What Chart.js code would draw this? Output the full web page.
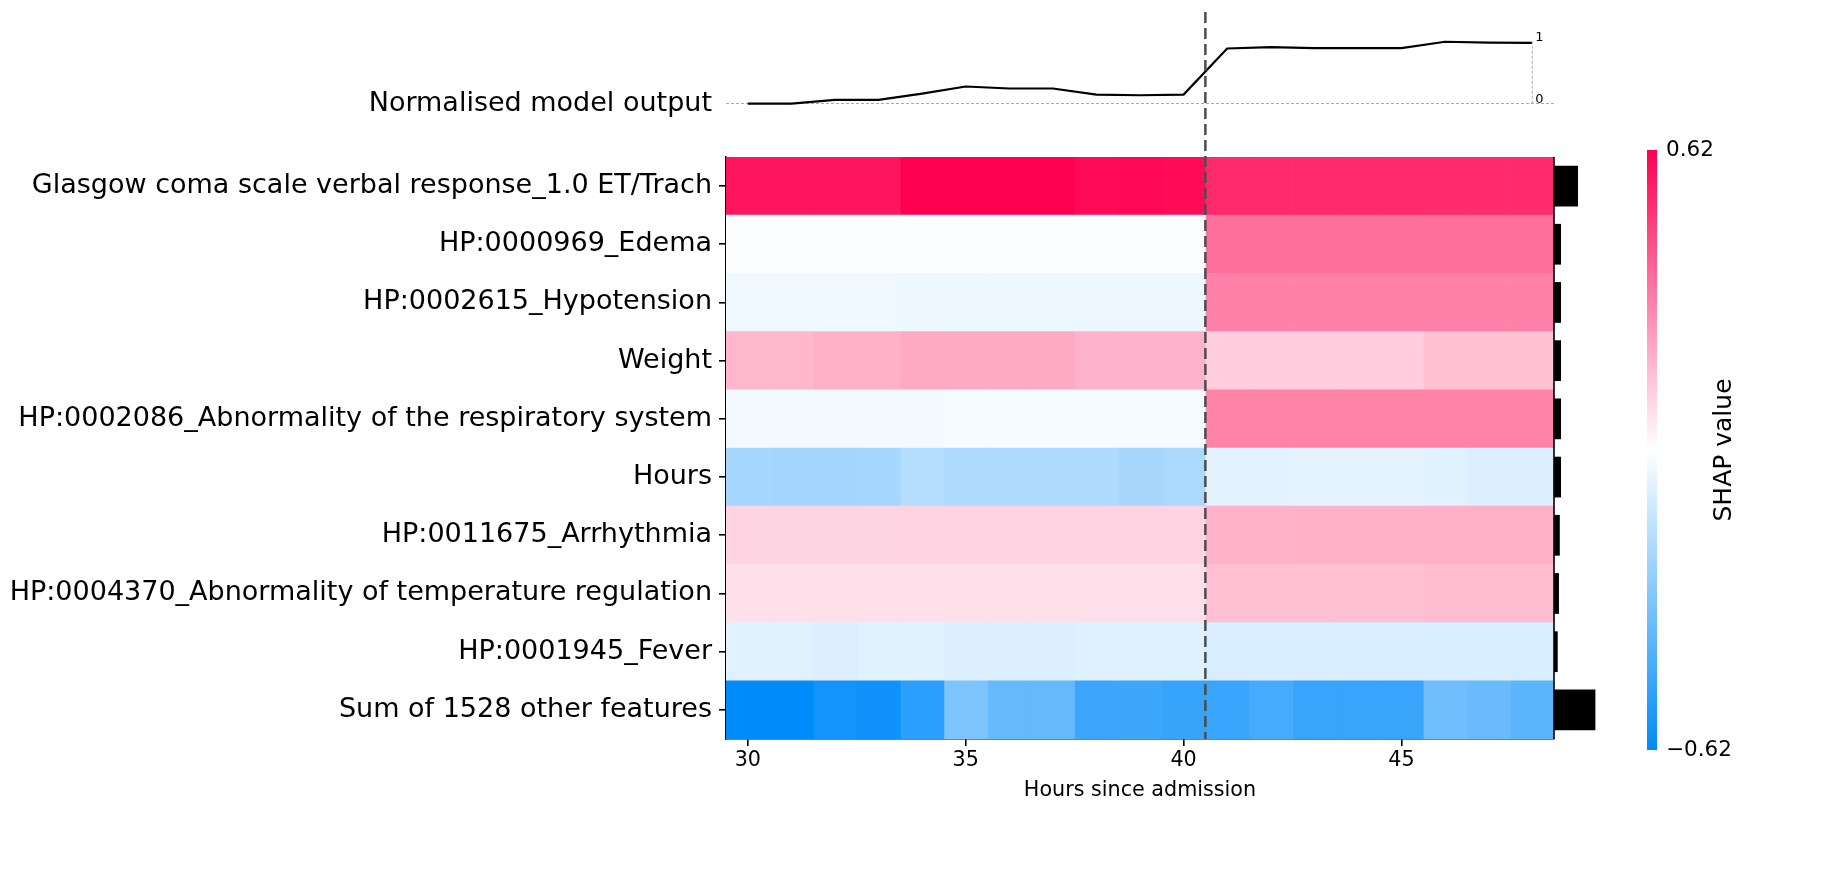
<!DOCTYPE html>
<html>
<head>
<meta charset="utf-8">
<title>SHAP heatmap</title>
<script src="https://cdn.jsdelivr.net/npm/chart.js@4.4.1/dist/chart.umd.min.js"></script>
<style>
  html, body { margin: 0; padding: 0; background: #fff; }
  #wrap { position: relative; width: 1834px; height: 872px; }
  #main { position: absolute; left: 0; top: 0; }
  #cbar { position: absolute; left: 1647px; top: 130px; }
</style>
</head>
<body>
<div id="wrap">
  <canvas id="main" width="1834" height="872"></canvas>
  <canvas id="cbar" width="120" height="640"></canvas>
</div>
<script>
const hours = [30, 31, 32, 33, 34, 35, 36, 37, 38, 39, 40, 41, 42, 43, 44, 45, 46, 47, 48];
const xTicks = [30, 35, 40, 45];
const splitHour = 40.5;

const features = [
  "Glasgow coma scale verbal response_1.0 ET/Trach",
  "HP:0000969_Edema",
  "HP:0002615_Hypotension",
  "Weight",
  "HP:0002086_Abnormality of the respiratory system",
  "Hours",
  "HP:0011675_Arrhythmia",
  "HP:0004370_Abnormality of temperature regulation",
  "HP:0001945_Fever",
  "Sum of 1528 other features"
];

// SHAP values, one array per feature, one value per hour
const glasgow     = [0.57, 0.57, 0.57, 0.57, 0.62, 0.62, 0.62, 0.62, 0.595, 0.60, 0.59, 0.52, 0.52, 0.52, 0.52, 0.52, 0.515, 0.515, 0.515];
const edema       = [-0.01, -0.01, -0.01, -0.01, -0.01, -0.01, -0.01, -0.01, -0.01, -0.01, -0.01, 0.35, 0.35, 0.35, 0.35, 0.35, 0.35, 0.35, 0.35];
const hypotension = [-0.04, -0.04, -0.04, -0.04, -0.043, -0.043, -0.043, -0.043, -0.043, -0.043, -0.043, 0.31, 0.31, 0.31, 0.31, 0.31, 0.31, 0.31, 0.31];
const weight      = [0.175, 0.175, 0.192, 0.192, 0.209, 0.206, 0.206, 0.206, 0.187, 0.187, 0.187, 0.122, 0.122, 0.122, 0.122, 0.122, 0.148, 0.148, 0.148];
const respiratory = [-0.029, -0.029, -0.029, -0.029, -0.029, -0.022, -0.022, -0.022, -0.022, -0.022, -0.022, 0.305, 0.305, 0.305, 0.305, 0.305, 0.305, 0.305, 0.305];
const hoursShap   = [-0.216, -0.224, -0.224, -0.216, -0.18, -0.197, -0.197, -0.197, -0.197, -0.212, -0.204, -0.068, -0.068, -0.066, -0.066, -0.066, -0.075, -0.085, -0.085];
const arrhythmia  = [0.105, 0.105, 0.105, 0.105, 0.107, 0.107, 0.107, 0.107, 0.107, 0.107, 0.107, 0.185, 0.185, 0.19, 0.19, 0.19, 0.19, 0.19, 0.19];
const temperature = [0.078, 0.078, 0.078, 0.078, 0.078, 0.078, 0.078, 0.078, 0.078, 0.078, 0.078, 0.153, 0.153, 0.153, 0.153, 0.153, 0.16, 0.16, 0.16];
const fever       = [-0.075, -0.075, -0.085, -0.075, -0.075, -0.088, -0.088, -0.088, -0.078, -0.078, -0.078, -0.095, -0.095, -0.095, -0.095, -0.095, -0.095, -0.095, -0.095];
const others      = [-0.68, -0.68, -0.574, -0.584, -0.515, -0.316, -0.374, -0.374, -0.477, -0.472, -0.486, -0.48, -0.45, -0.485, -0.485, -0.485, -0.345, -0.365, -0.396];

const shapRows = [glasgow, edema, hypotension, weight, respiratory, hoursShap, arrhythmia, temperature, fever, others];

// normalised mean |SHAP| per feature (black bars on the right)
const importance = [0.58, 0.17, 0.17, 0.17, 0.17, 0.17, 0.14, 0.12, 0.09, 1.0];

// normalised model output per hour (top line)
const modelOutput = [0, 0, 0.06, 0.06, 0.163, 0.277, 0.245, 0.245, 0.147, 0.136, 0.147, 0.891, 0.913, 0.897, 0.897, 0.897, 1.0, 0.985, 0.982];

const vmax = 0.62;
const FONT = "DejaVu Sans";

function shapColor(v) {
  const t = Math.max(-1, Math.min(1, v / vmax));
  let r, g, b;
  if (t >= 0) {
    r = 255; g = 255 * (1 - t); b = 255 - (255 - 81) * t;
  } else {
    const s = -t;
    r = 255 * (1 - s); g = 255 - (255 - 139) * s; b = 255 - (255 - 251) * s;
  }
  return `rgb(${Math.round(r)},${Math.round(g)},${Math.round(b)})`;
}

const xMin = hours[0] - 0.5;
const xMax = hours[hours.length - 1] + 0.5;

const heatSets = hours.map((h, c) => ({
  type: "bar",
  indexAxis: "y",
  xAxisID: "x",
  yAxisID: "y",
  data: features.map(() => [h - 0.5, h + 0.5]),
  backgroundColor: shapRows.map(row => shapColor(row[c])),
  borderWidth: 0,
  grouped: false,
  barPercentage: 1,
  categoryPercentage: 1,
  order: 3
}));

const barSet = {
  type: "bar",
  indexAxis: "y",
  xAxisID: "x",
  yAxisID: "y",
  data: importance.map(v => [xMax, xMax + v * hours.length / 20]),
  backgroundColor: "#000000",
  borderWidth: 0,
  grouped: false,
  barPercentage: 0.7,
  categoryPercentage: 1,
  clip: false,
  order: 2
};

const lineSet = {
  type: "line",
  indexAxis: "x",
  xAxisID: "x",
  yAxisID: "yLine",
  data: hours.map((h, i) => ({ x: h, y: modelOutput[i] })),
  borderColor: "#000000",
  borderWidth: 2.2,
  pointRadius: 0,
  tension: 0,
  fill: false,
  order: 1
};

const overlay = {
  id: "overlay",
  afterDatasetsDraw(chart) {
    const { ctx, scales: { x, y, yLine } } = chart;
    ctx.save();

    // right spine of the heatmap
    const xr = x.getPixelForValue(xMax);
    ctx.strokeStyle = "#000";
    ctx.lineWidth = 1.6;
    ctx.beginPath();
    ctx.moveTo(xr, y.top);
    ctx.lineTo(xr, y.bottom);
    ctx.stroke();

    // 0 / 1 guide for the model output
    const xl = x.getPixelForValue(hours[hours.length - 1]);
    ctx.strokeStyle = "#aaaaaa";
    ctx.lineWidth = 1;
    ctx.setLineDash([3, 2]);
    ctx.beginPath();
    ctx.moveTo(xl, yLine.getPixelForValue(0));
    ctx.lineTo(xl, yLine.getPixelForValue(1));
    ctx.stroke();
    ctx.setLineDash([]);
    ctx.fillStyle = "#000";
    ctx.font = `13px "${FONT}"`;
    ctx.textAlign = "left";
    ctx.textBaseline = "bottom";
    [0, 1].forEach(v => ctx.fillText(String(v), xl + 3, yLine.getPixelForValue(v) + 2));

    // split between the two periods
    const xs = x.getPixelForValue(splitHour);
    ctx.strokeStyle = "#4d4d4d";
    ctx.lineWidth = 2.5;
    ctx.setLineDash([11, 5]);
    ctx.beginPath();
    ctx.moveTo(xs, chart.chartArea.top);
    ctx.lineTo(xs, y.bottom);
    ctx.stroke();

    ctx.restore();
  }
};

new Chart(document.getElementById("main"), {
  type: "bar",
  data: { labels: features, datasets: [lineSet, barSet, ...heatSets] },
  options: {
    responsive: false,
    animation: false,
    devicePixelRatio: 1,
    layout: { autoPadding: false, padding: { left: 0, right: 280, top: 12, bottom: 53 } },
    plugins: { legend: { display: false }, tooltip: { enabled: false } },
    scales: {
      x: {
        type: "linear",
        position: "bottom",
        min: xMin,
        max: xMax,
        offset: false,
        afterBuildTicks: s => { s.ticks = xTicks.map(v => ({ value: v })); },
        afterFit: s => { s.height = 80; s.paddingLeft = 0; s.paddingRight = 0; },
        ticks: { font: { family: FONT, size: 20.7 }, color: "#000", padding: 2, maxRotation: 0 },
        grid: { drawOnChartArea: false, drawTicks: true, tickLength: 7, color: "#000", lineWidth: 1.6, offset: false },
        border: { display: true, color: "#000", width: 1.6 },
        title: { display: true, text: "Hours since admission", color: "#000",
                 font: { family: FONT, size: 20.7 }, padding: { top: 0, bottom: 15.6 } }
      },
      y: {
        type: "category",
        labels: features,
        position: "left",
        stack: "main",
        stackWeight: 10,
        offset: true,
        afterFit: s => { s.width = 726; s.paddingTop = 0; s.paddingBottom = 0; },
        ticks: { font: { family: FONT, size: 27 }, color: "#000", padding: 7, autoSkip: false },
        grid: { drawOnChartArea: false, drawTicks: true, tickLength: 7, color: "#000", lineWidth: 1.6, offset: false },
        border: { display: true, color: "#000", width: 1.6 }
      },
      yLine: {
        type: "linear",
        position: "left",
        stack: "main",
        stackWeight: 2.49,
        min: -0.86,
        max: 1.48,
        offset: false,
        afterBuildTicks: s => { s.ticks = [{ value: 0 }]; },
        afterFit: s => { s.width = 726; s.paddingTop = 0; s.paddingBottom = 0; },
        ticks: { callback: () => "Normalised model output", font: { family: FONT, size: 27 }, color: "#000", padding: 14 },
        grid: { drawTicks: false, color: "#aaaaaa", lineWidth: 1 },
        border: { display: false, dash: [3, 2] }
      }
    }
  },
  plugins: [overlay]
});

// colour bar
const cbarTitle = {
  id: "cbarTitle",
  afterDraw(chart) {
    const { ctx, chartArea } = chart;
    ctx.save();
    ctx.translate(chartArea.right + 67, (chartArea.top + chartArea.bottom) / 2);
    ctx.rotate(-Math.PI / 2);
    ctx.fillStyle = "#000";
    ctx.font = `25px "${FONT}"`;
    ctx.textAlign = "center";
    ctx.textBaseline = "middle";
    ctx.fillText("SHAP value", 0, 0);
    ctx.restore();
  }
};

new Chart(document.getElementById("cbar"), {
  type: "bar",
  data: {
    labels: ["SHAP"],
    datasets: [{
      data: [[-vmax, vmax]],
      backgroundColor: ctx => {
        const { chart } = ctx;
        const ys = chart.scales.y;
        if (!ys || ys.top === undefined) return "#fff";
        const g = chart.ctx.createLinearGradient(0, ys.getPixelForValue(-vmax), 0, ys.getPixelForValue(vmax));
        for (let i = 0; i <= 40; i++) {
          g.addColorStop(i / 40, shapColor(-vmax + 2 * vmax * i / 40));
        }
        return g;
      },
      borderWidth: 0,
      barPercentage: 1,
      categoryPercentage: 1
    }]
  },
  options: {
    responsive: false,
    animation: false,
    devicePixelRatio: 1,
    layout: { autoPadding: false, padding: { left: 0, right: 0, top: 20, bottom: 20 } },
    plugins: { legend: { display: false }, tooltip: { enabled: false } },
    scales: {
      x: { display: false },
      y: {
        position: "right",
        min: -vmax,
        max: vmax,
        afterBuildTicks: s => { s.ticks = [{ value: -vmax }, { value: vmax }]; },
        afterFit: s => { s.width = 110; s.paddingTop = 0; s.paddingBottom = 0; },
        ticks: {
          callback: v => (v < 0 ? "\u2212" : "") + Math.abs(v).toFixed(2),
          font: { family: FONT, size: 21.5 }, color: "#000", padding: 9
        },
        grid: { display: false, drawTicks: false },
        border: { display: false }
      }
    }
  },
  plugins: [cbarTitle]
});
</script>
</body>
</html>
